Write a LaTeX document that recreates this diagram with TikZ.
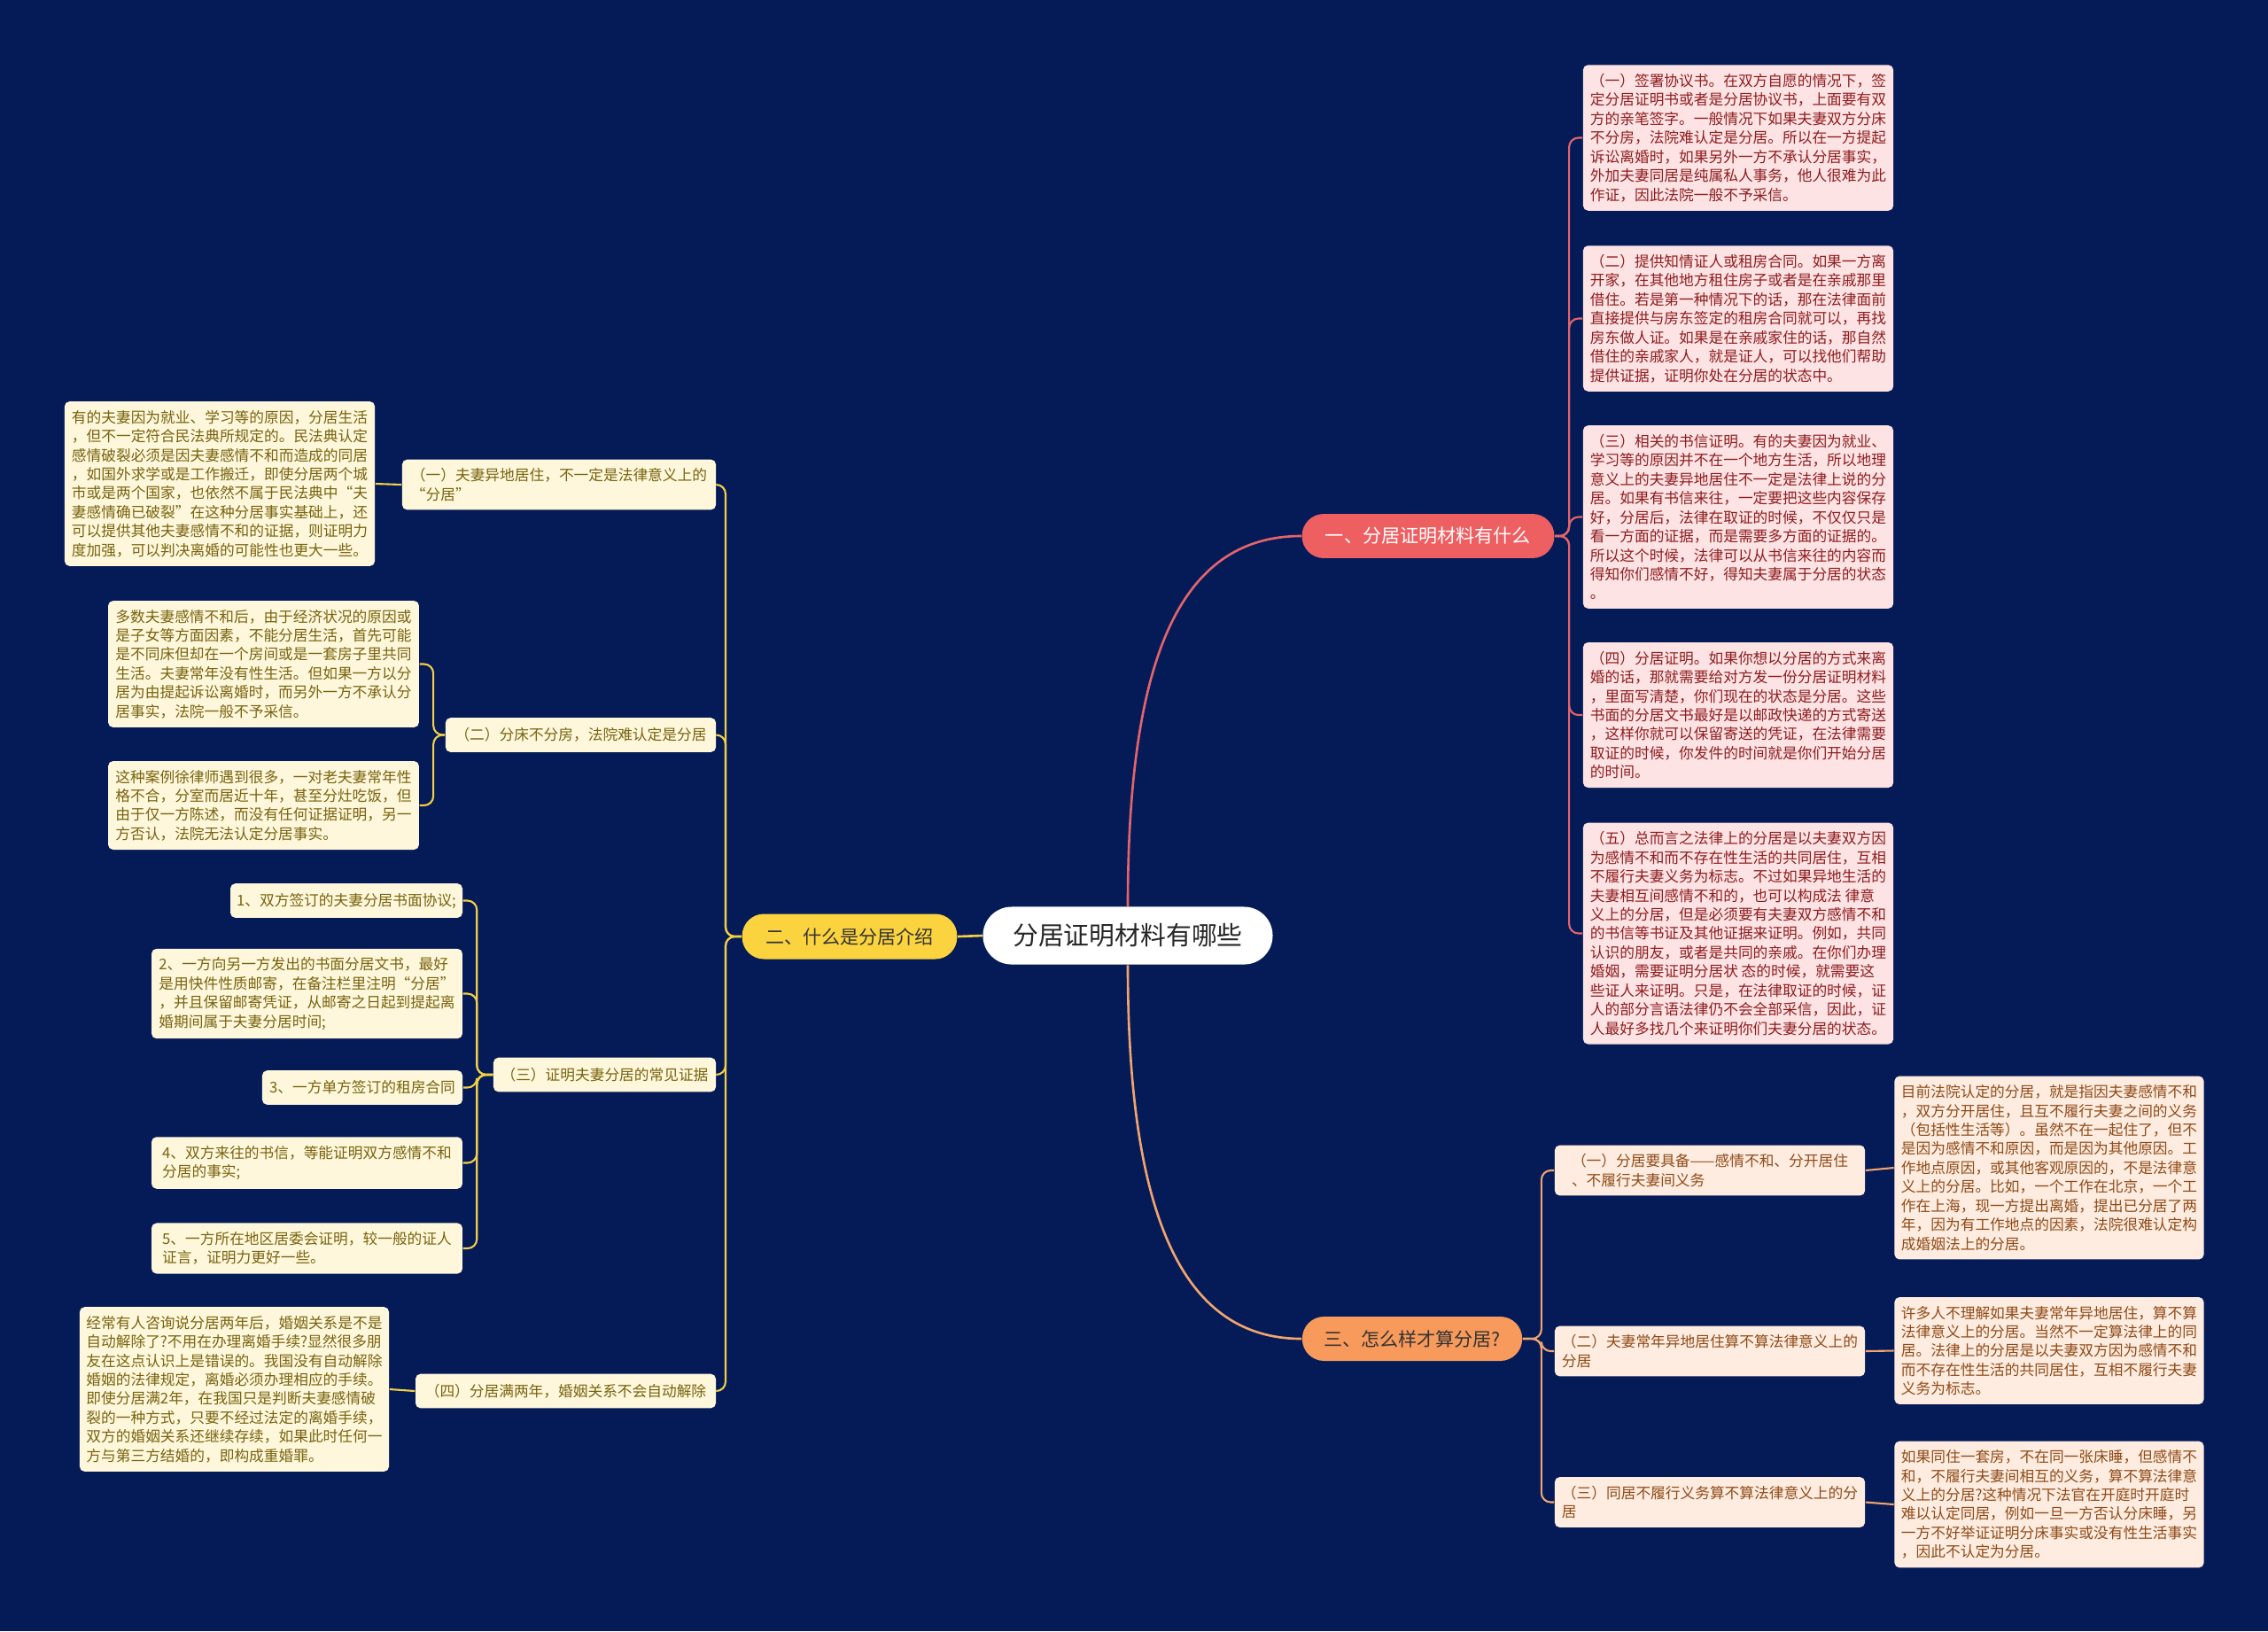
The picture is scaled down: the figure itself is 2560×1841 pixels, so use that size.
\documentclass[tikz,border=0pt]{standalone}
\usepackage{fontspec}
\setmainfont{Noto Sans CJK SC}
\usepackage{tikz}
\usepackage{xcolor}
\usetikzlibrary{positioning}
\definecolor{MapNavy}{HTML}{041B57}
\definecolor{MapRed}{HTML}{EE5F62}
\definecolor{MapRedLine}{HTML}{E4646C}
\definecolor{MapYellow}{HTML}{FAD33F}
\definecolor{MapYellowLine}{HTML}{F2CF45}
\definecolor{MapOrange}{HTML}{F79A5C}
\definecolor{MapOrangeLine}{HTML}{F2A46E}
\definecolor{MapPink}{HTML}{FDE3E4}
\definecolor{MapPinkText}{HTML}{8E1C1E}
\definecolor{MapCream}{HTML}{FEF7DB}
\definecolor{MapCreamText}{HTML}{78630F}
\definecolor{MapPeach}{HTML}{FDECDF}
\definecolor{MapPeachText}{HTML}{8F4A18}
\newcommand{\mapsmallfont}{\fontsize{4.75pt}{6.1pt}\selectfont}
\newcommand{\mapmidfont}{\fontsize{6pt}{7pt}\selectfont}
\newcommand{\maptitlefont}{\fontsize{8.2pt}{9pt}\selectfont}
\tikzset{
    % Node styles
    rootnode/.style={
        rectangle,
        rounded corners=9.2pt,
        fill=white,
        text=black!85,
        minimum width=93pt,
        minimum height=18.5pt,
        font=\maptitlefont
    },
    redsection/.style={
        rectangle,
        rounded corners=7pt,
        fill=MapRed,
        text=white,
        minimum width=81pt,
        minimum height=14.2pt,
        font=\mapmidfont
    },
    yellowsection/.style={
        rectangle,
        rounded corners=7pt,
        fill=MapYellow,
        text=black!80,
        minimum width=69pt,
        minimum height=14.5pt,
        font=\mapmidfont
    },
    orangesection/.style={
        rectangle,
        rounded corners=7pt,
        fill=MapOrange,
        text=black!80,
        minimum width=70.6pt,
        minimum height=14.2pt,
        font=\mapmidfont
    },
    pinkbox/.style={
        rectangle,
        rounded corners=1.6pt,
        fill=MapPink,
        text=MapPinkText,
        align=left,
        minimum width=99.6pt,
        inner xsep=2pt,
        inner ysep=2.8pt,
        font=\mapsmallfont
    },
    creambox/.style={
        rectangle,
        rounded corners=1.6pt,
        fill=MapCream,
        text=MapCreamText,
        align=left,
        minimum width=#1,
        minimum height=11pt,
        inner xsep=2pt,
        inner ysep=2.8pt,
        font=\mapsmallfont
    },
    creambox/.default=99.8pt,
    peachbox/.style={
        rectangle,
        rounded corners=1.6pt,
        fill=MapPeach,
        text=MapPeachText,
        align=left,
        minimum width=#1,
        inner xsep=2pt,
        inner ysep=2.8pt,
        font=\mapsmallfont
    },
    peachbox/.default=99.6pt,
    % Line styles
    redline/.style={draw=MapRedLine, line width=0.75pt},
    yellowline/.style={draw=MapYellowLine, line width=0.75pt},
    orangeline/.style={draw=MapOrangeLine, line width=0.75pt},
    redthin/.style={draw=MapRedLine, line width=0.6pt, rounded corners=3pt},
    yellowthin/.style={draw=MapYellowLine, line width=0.6pt, rounded corners=3pt},
    orangethin/.style={draw=MapOrangeLine, line width=0.6pt, rounded corners=3pt}
}
\begin{document}
\begin{tikzpicture}[x=0.01cm, y=-0.01cm]
    \useasboundingbox (0,0) rectangle (2560,1841);
    \fill[MapNavy] (0,0) rectangle (2560,1841);

    % Root and the three sections
    \node[rootnode] (root) at (1273,1056) {分居证明材料有哪些};
    \node[redsection] (sec1) at (1612,605) {一、分居证明材料有什么};
    \node[yellowsection] (sec2) at (959,1057) {二、什么是分居介绍};
    \node[orangesection] (sec3) at (1594,1511) {三、怎么样才算分居?};

    % Section one: kinds of proof
    \node[pinkbox] (r1) at (1962,155.5) {（一）签署协议书。在双方自愿的情况下，签\\
定分居证明书或者是分居协议书，上面要有双\\
方的亲笔签字。一般情况下如果夫妻双方分床\\
不分房，法院难认定是分居。所以在一方提起\\
诉讼离婚时，如果另外一方不承认分居事实，\\
外加夫妻同居是纯属私人事务，他人很难为此\\
作证，因此法院一般不予采信。};
    \node[pinkbox] (r2) at (1962,359.5) {（二）提供知情证人或租房合同。如果一方离\\
开家，在其他地方租住房子或者是在亲戚那里\\
借住。若是第一种情况下的话，那在法律面前\\
直接提供与房东签定的租房合同就可以，再找\\
房东做人证。如果是在亲戚家住的话，那自然\\
借住的亲戚家人，就是证人，可以找他们帮助\\
提供证据，证明你处在分居的状态中。};
    \node[pinkbox] (r3) at (1962,583.5) {（三）相关的书信证明。有的夫妻因为就业、\\
学习等的原因并不在一个地方生活，所以地理\\
意义上的夫妻异地居住不一定是法律上说的分\\
居。如果有书信来往，一定要把这些内容保存\\
好，分居后，法律在取证的时候，不仅仅只是\\
看一方面的证据，而是需要多方面的证据的。\\
所以这个时候，法律可以从书信来往的内容而\\
得知你们感情不好，得知夫妻属于分居的状态\\
。};
    \node[pinkbox] (r4) at (1962,807) {（四）分居证明。如果你想以分居的方式来离\\
婚的话，那就需要给对方发一份分居证明材料\\
，里面写清楚，你们现在的状态是分居。这些\\
书面的分居文书最好是以邮政快递的方式寄送\\
，这样你就可以保留寄送的凭证，在法律需要\\
取证的时候，你发件的时间就是你们开始分居\\
的时间。};
    \node[pinkbox] (r5) at (1962,1053.5) {（五）总而言之法律上的分居是以夫妻双方因\\
为感情不和而不存在性生活的共同居住，互相\\
不履行夫妻义务为标志。不过如果异地生活的\\
夫妻相互间感情不和的，也可以构成法 律意\\
义上的分居，但是必须要有夫妻双方感情不和\\
的书信等书证及其他证据来证明。例如，共同\\
认识的朋友，或者是共同的亲戚。在你们办理\\
婚姻，需要证明分居状 态的时候，就需要这\\
些证人来证明。只是，在法律取证的时候，证\\
人的部分言语法律仍不会全部采信，因此，证\\
人最好多找几个来证明你们夫妻分居的状态。};

    % Section three: what counts
    \node[peachbox] (l1) at (1930,1321) {（一）分居要具备——感情不和、分开居住\\
、不履行夫妻间义务};
    \node[peachbox] (l2) at (1930,1525) {（二）夫妻常年异地居住算不算法律意义上的\\
分居};
    \node[peachbox] (l3) at (1930,1695.5) {（三）同居不履行义务算不算法律意义上的分\\
居};
    \node[peachbox=99.3pt] (o1) at (2313,1318) {目前法院认定的分居，就是指因夫妻感情不和\\
，双方分开居住，且互不履行夫妻之间的义务\\
（包括性生活等）。虽然不在一起住了，但不\\
是因为感情不和原因，而是因为其他原因。工\\
作地点原因，或其他客观原因的，不是法律意\\
义上的分居。比如，一个工作在北京，一个工\\
作在上海，现一方提出离婚，提出已分居了两\\
年，因为有工作地点的因素，法院很难认定构\\
成婚姻法上的分居。};
    \node[peachbox=99.3pt] (o2) at (2313,1524.5) {许多人不理解如果夫妻常年异地居住，算不算\\
法律意义上的分居。当然不一定算法律上的同\\
居。法律上的分居是以夫妻双方因为感情不和\\
而不存在性生活的共同居住，互相不履行夫妻\\
义务为标志。};
    \node[peachbox=99.3pt] (o3) at (2313,1698) {如果同住一套房，不在同一张床睡，但感情不\\
和，不履行夫妻间相互的义务，算不算法律意\\
义上的分居?这种情况下法官在开庭时开庭时\\
难以认定同居，例如一旦一方否认分床睡，另\\
一方不好举证证明分床事实或没有性生活事实\\
，因此不认定为分居。};

    % Section two: introduction
    \node[creambox=100.7pt] (lab1) at (631,547) {（一）夫妻异地居住，不一定是法律意义上的\\
“分居”};
    \node[creambox=86.8pt] (lab2) at (655.5,829.5) {（二）分床不分房，法院难认定是分居};
    \node[creambox=71.4pt] (lab3) at (682.5,1213) {（三）证明夫妻分居的常见证据};
    \node[creambox=96.4pt] (lab4) at (638.5,1570) {（四）分居满两年，婚姻关系不会自动解除};

    \node[creambox=99.6pt] (y1a) at (248,546) {有的夫妻因为就业、学习等的原因，分居生活\\
，但不一定符合民法典所规定的。民法典认定\\
感情破裂必须是因夫妻感情不和而造成的同居\\
，如国外求学或是工作搬迁，即使分居两个城\\
市或是两个国家，也依然不属于民法典中“夫\\
妻感情确已破裂”在这种分居事实基础上，还\\
可以提供其他夫妻感情不和的证据，则证明力\\
度加强，可以判决离婚的可能性也更大一些。};
    \node[creambox] (y2a) at (297.5,749.5) {多数夫妻感情不和后，由于经济状况的原因或\\
是子女等方面因素，不能分居生活，首先可能\\
是不同床但却在一个房间或是一套房子里共同\\
生活。夫妻常年没有性生活。但如果一方以分\\
居为由提起诉讼离婚时，而另外一方不承认分\\
居事实，法院一般不予采信。};
    \node[creambox] (y2b) at (297.5,909) {这种案例徐律师遇到很多，一对老夫妻常年性\\
格不合，分室而居近十年，甚至分灶吃饭，但\\
由于仅一方陈述，而没有任何证据证明，另一\\
方否认，法院无法认定分居事实。};

    \node[creambox=74.5pt] (i1) at (391,1016.5) {1、双方签订的夫妻分居书面协议;};
    \node[creambox] (i2) at (346.5,1121.5) {2、一方向另一方发出的书面分居文书，最好\\
是用快件性质邮寄，在备注栏里注明“分居”\\
，并且保留邮寄凭证，从邮寄之日起到提起离\\
婚期间属于夫妻分居时间;};
    \node[creambox=64.3pt] (i3) at (409,1227.5) {3、一方单方签订的租房合同};
    \node[creambox] (i4) at (346.5,1312.5) {4、双方来往的书信，等能证明双方感情不和\\
分居的事实;};
    \node[creambox] (i5) at (346.5,1409) {5、一方所在地区居委会证明，较一般的证人\\
证言，证明力更好一些。};

    \node[creambox=99.3pt] (y4a) at (264.5,1568) {经常有人咨询说分居两年后，婚姻关系是不是\\
自动解除了?不用在办理离婚手续?显然很多朋\\
友在这点认识上是错误的。我国没有自动解除\\
婚姻的法律规定，离婚必须办理相应的手续。\\
即使分居满2年，在我国只是判断夫妻感情破\\
裂的一种方式，只要不经过法定的离婚手续，\\
双方的婚姻关系还继续存续，如果此时任何一\\
方与第三方结婚的，即构成重婚罪。};

    % Connectors from the root
    \draw[redline] (root.north) .. controls +(0,-274) and +(-140,0) .. (sec1.west);
    \draw[yellowline] (root.west) -- (sec2.east);
    \draw[orangeline] (root.south) .. controls +(0,271) and +(-140,0) .. (sec3.west);

    % Section one connectors
    \foreach \n in {r1,r2,r3,r4,r5}
        \draw[redthin] (sec1.east) -- ++(16,0) |- (\n.west);

    % Section three connectors
    \foreach \n in {l1,l2,l3}
        \draw[orangethin] (sec3.east) -- ++(21,0) |- (\n.west);
    \draw[orangethin] (l1.east) -- (o1.west);
    \draw[orangethin] (l2.east) -- (o2.west);
    \draw[orangethin] (l3.east) -- (o3.west);

    % Section two connectors
    \foreach \n in {lab1,lab2,lab3,lab4}
        \draw[yellowthin] (sec2.west) -- ++(-18,0) |- (\n.east);
    \draw[yellowthin] (lab1.west) -- (y1a.east);
    \foreach \n in {y2a,y2b}
        \draw[yellowthin] (lab2.west) -- ++(-13,0) |- (\n.east);
    \foreach \n in {i1,i2,i3,i4,i5}
        \draw[yellowthin] (lab3.west) -- ++(-18,0) |- (\n.east);
    \draw[yellowthin] (lab4.west) -- (y4a.east);
\end{tikzpicture}
\end{document}
